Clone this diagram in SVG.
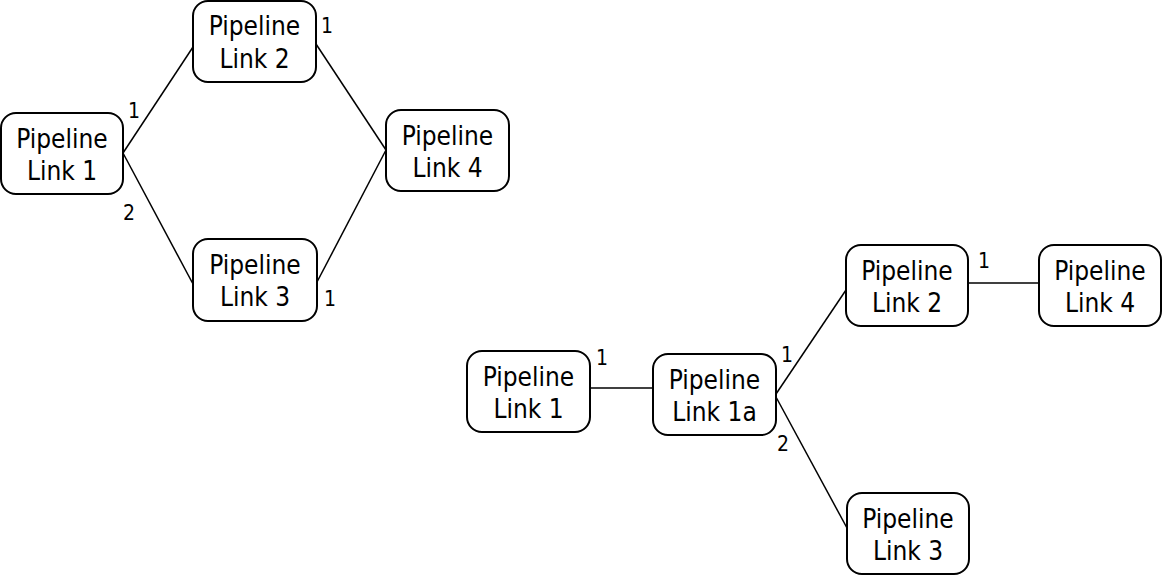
<svg xmlns="http://www.w3.org/2000/svg" width="1167" height="575" viewBox="0 0 1167 575">
<style>
.box{fill:#fff;stroke:#000;stroke-width:2}
.t{font-family:"DejaVu Sans Condensed","DejaVu Sans",Verdana,sans-serif;font-stretch:condensed;font-size:26px;text-anchor:middle;fill:#000}
.n{font-family:"DejaVu Sans Condensed","DejaVu Sans",Verdana,sans-serif;font-stretch:condensed;font-size:21px;text-anchor:middle;fill:#000}
.c line{stroke:#000;stroke-width:1.5}
</style>
<rect width="1167" height="575" fill="#fff"/>
<g class="c" id="connectors">
<line x1="123" y1="153" x2="193" y2="47"/>
<line x1="123" y1="153" x2="193" y2="284"/>
<line x1="316" y1="44" x2="386" y2="150"/>
<line x1="317" y1="282" x2="386" y2="150"/>
<line x1="590" y1="388" x2="653" y2="388"/>
<line x1="776" y1="394" x2="846" y2="290"/>
<line x1="776" y1="397" x2="847" y2="528"/>
<line x1="968" y1="283" x2="1039" y2="283"/>
</g>
<g id="labels">
<text class="n" x="134" y="118">1</text>
<text class="n" x="129" y="220">2</text>
<text class="n" x="327" y="33">1</text>
<text class="n" x="330" y="306">1</text>
<text class="n" x="602" y="365">1</text>
<text class="n" x="787" y="362">1</text>
<text class="n" x="783" y="451">2</text>
<text class="n" x="984" y="268">1</text>
</g>
<g id="a-pl1"><rect class="box" x="1" y="113" width="122" height="81" rx="15"/><text class="t" x="62" y="148">Pipeline</text><text class="t" x="62" y="180">Link 1</text></g>
<g id="a-pl2"><rect class="box" x="193" y="1" width="123" height="81" rx="15"/><text class="t" x="254.5" y="35">Pipeline</text><text class="t" x="254.5" y="68">Link 2</text></g>
<g id="a-pl3"><rect class="box" x="193" y="239" width="124" height="82" rx="15"/><text class="t" x="255" y="274">Pipeline</text><text class="t" x="255" y="306">Link 3</text></g>
<g id="a-pl4"><rect class="box" x="386" y="110" width="123" height="81" rx="15"/><text class="t" x="447.5" y="145">Pipeline</text><text class="t" x="447.5" y="177">Link 4</text></g>
<g id="b-pl1"><rect class="box" x="467" y="351" width="123" height="81" rx="15"/><text class="t" x="528.5" y="386">Pipeline</text><text class="t" x="528.5" y="418">Link 1</text></g>
<g id="b-pl1a"><rect class="box" x="653" y="354" width="123" height="81" rx="15"/><text class="t" x="714.5" y="389">Pipeline</text><text class="t" x="714.5" y="421">Link 1a</text></g>
<g id="b-pl2"><rect class="box" x="846" y="245" width="122" height="81" rx="15"/><text class="t" x="907" y="280">Pipeline</text><text class="t" x="907" y="312">Link 2</text></g>
<g id="b-pl4"><rect class="box" x="1039" y="245" width="122" height="81" rx="15"/><text class="t" x="1100" y="280">Pipeline</text><text class="t" x="1100" y="312">Link 4</text></g>
<g id="b-pl3"><rect class="box" x="847" y="493" width="122" height="81" rx="15"/><text class="t" x="908" y="528">Pipeline</text><text class="t" x="908" y="560">Link 3</text></g>
</svg>
